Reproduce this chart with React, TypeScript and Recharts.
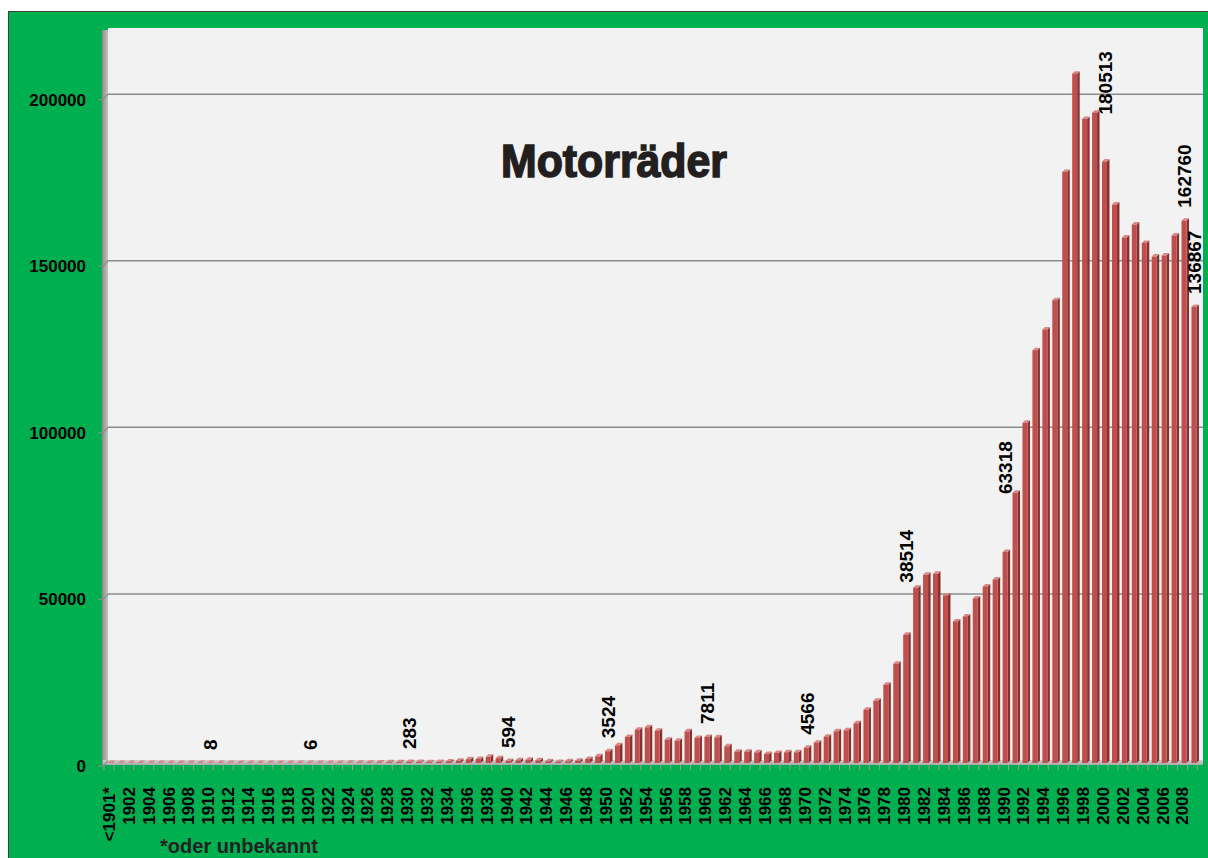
import { BarChart, Bar, XAxis, YAxis, CartesianGrid, LabelList } from 'recharts';

const years = [
    '<1901*',
    '1901', '1902', '1903', '1904', '1905', '1906', '1907', '1908', '1909', '1910',
    '1911', '1912', '1913', '1914', '1915', '1916', '1917', '1918', '1919', '1920',
    '1921', '1922', '1923', '1924', '1925', '1926', '1927', '1928', '1929', '1930',
    '1931', '1932', '1933', '1934', '1935', '1936', '1937', '1938', '1939', '1940',
    '1941', '1942', '1943', '1944', '1945', '1946', '1947', '1948', '1949', '1950',
    '1951', '1952', '1953', '1954', '1955', '1956', '1957', '1958', '1959', '1960',
    '1961', '1962', '1963', '1964', '1965', '1966', '1967', '1968', '1969', '1970',
    '1971', '1972', '1973', '1974', '1975', '1976', '1977', '1978', '1979', '1980',
    '1981', '1982', '1983', '1984', '1985', '1986', '1987', '1988', '1989', '1990',
    '1991', '1992', '1993', '1994', '1995', '1996', '1997', '1998', '1999', '2000',
    '2001', '2002', '2003', '2004', '2005', '2006', '2007', '2008', '2009',
];

const motorcycles = [
    15,
    1, 1, 2, 1, 3, 2, 4, 5, 6, 8,
    7, 9, 11, 10, 4, 3, 2, 3, 4, 6,
    12, 18, 25, 40, 70, 110, 160, 220, 260, 283,
    270, 240, 310, 480, 700, 1150, 1200, 1850, 1450, 594,
    800, 1000, 800, 500, 300, 500, 700, 1200, 2000, 3524,
    5300, 7800, 10000, 10700, 9700, 7000, 6700, 9500, 7500, 7811,
    7700, 5000, 3400, 3400, 3200, 2700, 3000, 3200, 3200, 4566,
    6100, 7900, 9500, 9800, 11900, 16000, 18700, 23500, 29800, 38514,
    52600, 56500, 56800, 50300, 42500, 44000, 49400, 53000, 55100, 63318,
    81100, 102100, 123900, 130100, 138900, 177400, 206900, 193300, 195200, 180513,
    167600, 157700, 161600, 156100, 152000, 152300, 158300, 162760, 136867,
];

const labelledYears = ['1910', '1920', '1930', '1940', '1950', '1960', '1970', '1980', '1990', '2000', '2008', '2009'];
const yTicks = [0, 50000, 100000, 150000, 200000];
const gridValues = [50000, 100000, 150000, 200000];

// labels that were pushed up by hand so they clear the neighbouring bars
const labelLift: Record<string, number> = { '1980': 39, '1990': 45, '2000': 34 };

const data = years.map((year, i) => ({
    year,
    count: motorcycles[i],
    label: labelledYears.includes(year) ? motorcycles[i] : null,
}));

const FONT = '"Liberation Sans", Arial, sans-serif';
const DEPTH = 2.5;

function Bar3D(props: any) {
    const { x, y, width, height } = props;
    const fx = x + 2;
    const bottom = y + height;
    return (
        <g>
            <polygon
                points={`${fx + width},${y} ${fx + width + DEPTH},${y - DEPTH} ${fx + width + DEPTH},${bottom - DEPTH} ${fx + width},${bottom}`}
                fill="#843130"
            />
            <polygon
                points={`${fx},${y} ${fx + DEPTH},${y - DEPTH} ${fx + width + DEPTH},${y - DEPTH} ${fx + width},${y}`}
                fill="#d98784"
            />
            <rect x={fx} y={y} width={width} height={height} fill="#bf4f4c" />
        </g>
    );
}

function XTick(props: any) {
    const { x, y, payload, index } = props;
    const half = payload.offset ?? 4.97;
    return (
        <g>
            <line x1={x - half} y1={y + 2} x2={x - half} y2={y + 7} stroke="#9a9a9a" strokeWidth={1} />
            {index === years.length - 1 && (
                <line x1={x + half} y1={y + 2} x2={x + half} y2={y + 7} stroke="#9a9a9a" strokeWidth={1} />
            )}
            {index % 2 === 0 && (
                <text
                    transform={`translate(${x + 6},${y + 24}) rotate(-90)`}
                    textAnchor="end"
                    fontFamily={FONT}
                    fontWeight="bold"
                    fontSize={17}
                    fill="#000"
                >
                    {payload.value}
                </text>
            )}
        </g>
    );
}

function YTick(props: any) {
    const { x, y, payload } = props;
    return (
        <g>
            <polyline
                points={`${x - 6},${y + 3} ${x - 1},${y + 3} ${x + 4},${y - 2.5}`}
                fill="none"
                stroke="#8c8c8c"
                strokeWidth={1.2}
            />
            <text x={x - 18} y={y + 9} textAnchor="end" fontFamily={FONT} fontWeight="bold" fontSize={17} fill="#000">
                {payload.value}
            </text>
        </g>
    );
}

function ValueLabel(props: any) {
    const { x, y, value, index } = props;
    if (value === null || value === undefined) return null;
    const lift = labelLift[years[index]] ?? 0;
    const cx = x + 4.7;
    const ty = y - 13 - lift;
    return (
        <text
            transform={`translate(${cx + 7},${ty}) rotate(-90)`}
            textAnchor="start"
            fontFamily={FONT}
            fontWeight="bold"
            fontSize={19}
            fill="#000"
        >
            {value}
        </text>
    );
}

export default function App() {
    return (
        <div style={{ position: 'fixed', left: 0, top: 0, width: 1208, height: 858, overflow: 'hidden', background: '#fff' }}>
            <div
                style={{
                    position: 'absolute', left: 8, top: 11, width: 1210, height: 860,
                    background: '#00b050', border: '1px solid #2f4a3b',
                }}
            />
            <div style={{ position: 'absolute', left: 108, top: 28, width: 1095, height: 734, background: '#f2f2f2' }} />
            <div
                style={{
                    position: 'absolute', left: 102, top: 30, width: 6, height: 735,
                    background: 'linear-gradient(to right, #8a8a8a, #c4c4c4)',
                }}
            />
            <div
                style={{
                    position: 'absolute', left: 103, top: 760, width: 1100, height: 5,
                    background: 'linear-gradient(to bottom, #d2d2d2, #a9a9a9)',
                }}
            />
            <div style={{ position: 'absolute', left: 0, top: 0 }}>
                <BarChart width={1208} height={858} data={data} margin={{ top: 30, right: 10.6, bottom: 15, left: 44 }}>
                    <CartesianGrid
                        vertical={false}
                        horizontalValues={gridValues}
                        horizontal={(p: any) => (
                            <line
                                key={p.key}
                                x1={p.x1 + 4}
                                y1={p.y1 - 2.5}
                                x2={p.x2 + 5.6}
                                y2={p.y2 - 2.5}
                                stroke="#8c8c8c"
                                strokeWidth={1.5}
                            />
                        )}
                    />
                    <XAxis
                        dataKey="year"
                        interval={0}
                        height={80}
                        axisLine={false}
                        tickLine={false}
                        tickSize={0}
                        tickMargin={0}
                        tick={<XTick />}
                    />
                    <YAxis
                        domain={[0, 220000]}
                        ticks={yTicks}
                        interval={0}
                        width={60}
                        axisLine={false}
                        tickLine={false}
                        tickSize={0}
                        tickMargin={0}
                        tick={<YTick />}
                    />
                    <Bar dataKey="count" barSize={5} shape={<Bar3D />} isAnimationActive={false}>
                        <LabelList dataKey="label" content={<ValueLabel />} />
                    </Bar>
                </BarChart>
            </div>
            <svg width={1208} height={858} style={{ position: 'absolute', left: 0, top: 0, pointerEvents: 'none' }}>
                <text
                    x={501}
                    y={177}
                    fontFamily='"Liberation Sans Narrow", "Liberation Sans", Arial, sans-serif'
                    fontWeight="bold"
                    fontSize={47}
                    fill="#231f20"
                    stroke="#231f20"
                    strokeWidth={1.6}
                    textLength={226}
                    lengthAdjust="spacingAndGlyphs"
                >
                    Motorräder
                </text>
                <text
                    x={160}
                    y={853}
                    fontFamily={FONT}
                    fontWeight="bold"
                    fontSize={21}
                    fill="#222"
                    textLength={158}
                    lengthAdjust="spacingAndGlyphs"
                >
                    *oder unbekannt
                </text>
            </svg>
        </div>
    );
}
